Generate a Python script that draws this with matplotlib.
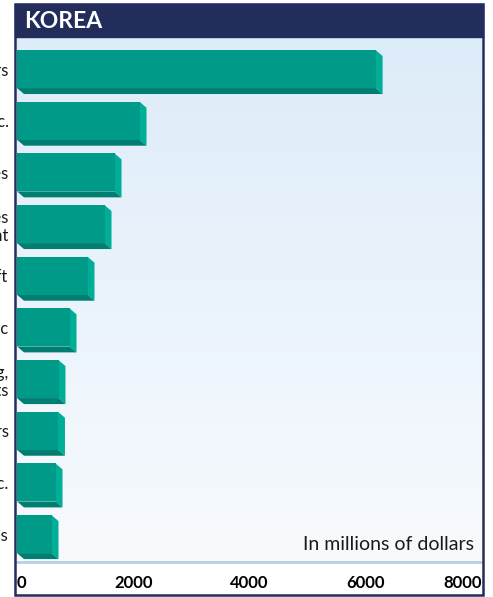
import numpy as np
import matplotlib.pyplot as plt
from matplotlib.patches import Polygon, Rectangle
from matplotlib.colors import LinearSegmentedColormap

# Top ten items, in millions of dollars
categories = ["Semiconductors", "Telecom equipment, etc.", "Motor vehicles",
              "Industrial machines\nand equipment", "Aircraft", "Plastic",
              "Clothing,\ntextile products", "Motors and generators",
              "Toys, games, etc.", "Miscellaneous"]
values = [6170, 2108, 1678, 1506, 1213, 904, 714, 705, 663, 594]
xticks = [0, 2000, 4000, 6000, 8000]

plt.rcParams['font.family'] = ['Lato', 'DejaVu Sans']

W, H = 493, 597
fig = plt.figure(figsize=(W / 100, H / 100), dpi=100)

def fx(px):
    return px / W

def fy(py):
    return 1 - py / H

navy = "#222d5c"
face = "#009a89"
side = "#00ae98"
bottom = "#007e71"

# title band and outer frame (frame drawn on top, no fill)
fig.patches.append(Rectangle((fx(15), fy(37)), fx(483) - fx(15), fy(4) - fy(37),
                             transform=fig.transFigure, facecolor=navy,
                             edgecolor=navy, lw=1.0, zorder=5))
fig.patches.append(Rectangle((fx(15), fy(595)), fx(483) - fx(15), fy(4) - fy(595),
                             transform=fig.transFigure, facecolor="none",
                             edgecolor=navy, lw=1.8, zorder=6))
fig.text(fx(24), fy(21), "KOREA", color="white", fontsize=16.5, fontweight="bold",
         va="center", ha="left", zorder=7)

ax = fig.add_axes([fx(17), fy(562), fx(482) - fx(17), fy(37) - fy(562)])
ax.set_xlim(0, 8000)
ax.set_ylim(9.54, -0.62)

# light blue wash behind the bars
grad = np.linspace(0, 1, 256).reshape(-1, 1)
cmap = LinearSegmentedColormap.from_list("wash", ["#ddecf9", "#f8fbfe"])
ax.imshow(grad, extent=[0, 8000, 9.54, -0.62], aspect="auto", cmap=cmap,
          zorder=0)

y = np.arange(len(values))
h = 0.735
dx = 120
dy = 0.116
ax.barh(y, values, height=h, color=face, zorder=3)
for yi, v in zip(y, values):
    top, bot = yi - h / 2, yi + h / 2
    ax.add_patch(Polygon([(v, top), (v + dx, top + dy), (v + dx, bot + dy), (v, bot)],
                         closed=True, facecolor=side, edgecolor="none", zorder=2))
    ax.add_patch(Polygon([(0, bot), (dx, bot + dy), (v + dx, bot + dy), (v, bot)],
                         closed=True, facecolor=bottom, edgecolor="none", zorder=2))

ax.set_yticks(y)
ax.set_yticklabels(categories, fontsize=12, color="#1a1a1a", linespacing=1.2)
ax.tick_params(axis="y", length=0, pad=6)

ax.set_xticks(xticks)
ax.set_xticklabels([str(t) for t in xticks], fontsize=12, fontweight="bold")
ax.tick_params(axis="x", length=0, pad=9)
labels = ax.get_xticklabels()
labels[0].set_ha("left")
labels[-1].set_ha("right")

for s in ["top", "right", "left"]:
    ax.spines[s].set_visible(False)
ax.spines["bottom"].set_color("#b9cfe4")
ax.spines["bottom"].set_linewidth(2)

ax.text(0.982, 0.018, "In millions of dollars", transform=ax.transAxes,
        ha="right", va="bottom", fontsize=14, color="#1a1a1a", zorder=5)

fig.savefig("out.png", dpi=100)
